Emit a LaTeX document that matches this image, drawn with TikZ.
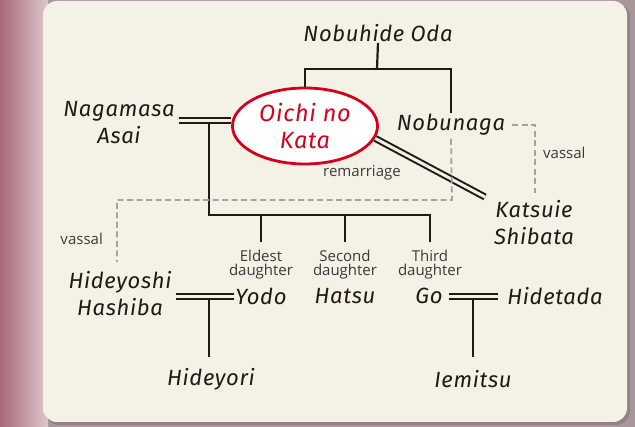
\documentclass[tikz,border=0pt]{standalone}
\usepackage{fontspec}
\setmainfont{Fira Sans}
\newfontfamily\namefont[LetterSpace=3]{Fira Sans}
\newfontfamily\labfont{Open Sans}
\usetikzlibrary{shapes.geometric,calc}
\definecolor{panel}{HTML}{F4F2E5}
\definecolor{ink}{HTML}{231815}
\definecolor{redb}{HTML}{D7001B}
\definecolor{dashg}{HTML}{A3A3A3}
\definecolor{labg}{HTML}{3A3A3A}
\definecolor{outer}{HTML}{A8969B}
\definecolor{maroon}{HTML}{A86878}
\definecolor{pinkl}{HTML}{DCC8CD}
\tikzset{
  person/.style={font=\namefont\itshape\fontsize{22}{27}\selectfont, text=ink, align=center, inner sep=1pt},
  small/.style={font=\labfont\fontsize{15}{14}\selectfont, text=labg, align=center, inner sep=1pt},
  tie/.style={draw=ink, line width=2.2pt},
  wed/.style={draw=ink, line width=2pt, double=panel, double distance=3pt},
  vas/.style={draw=dashg, line width=1.8pt, dash pattern=on 6pt off 3.5pt},
  heroine/.style={ellipse, draw=redb, line width=2.8pt, fill=white, minimum width=145pt, minimum height=76pt, inner sep=0pt, text=redb, align=center, font=\namefont\itshape\fontsize{23.5}{27}\selectfont}
}
\begin{document}
\begin{tikzpicture}[x=1pt,y=-1pt]
\useasboundingbox (0,0) rectangle (635,427);
\fill[outer] (0,0) rectangle (635,427);
\shade[left color=maroon, right color=pinkl] (0,0) rectangle (48,427);
\fill[black, opacity=0.12, rounded corners=14pt] (45,3) rectangle (630,425);
\fill[panel, rounded corners=14pt] (43,1) rectangle (627,422);

% people
\node[person] (nobuhide) at (378,33) {Nobuhide Oda};
\node[heroine] (oichi) at (305,126) {Oichi no\\Kata};
\node[person] (nagamasa) at (119,123) {Nagamasa\\Asai};
\node[person] (nobunaga) at (451,125) {Nobunaga};
\node[person] (katsuie) at (534,223) {Katsuie\\Shibata};
\node[person] (hideyoshi) at (120,294) {Hideyoshi\\Hashiba};
\node[person] (yodo) at (261,296) {Yodo};
\node[person] (hatsu) at (345,296) {Hatsu};
\node[person] (go) at (429,296) {Go};
\node[person] (hidetada) at (555,296) {Hidetada};
\node[person] (hideyori) at (211,379) {Hideyori};
\node[person] (iemitsu) at (473,379) {Iemitsu};

% small labels
\node[small] (eldest) at (261,265) {Eldest\\daughter};
\node[small] (second) at (345,265) {Second\\daughter};
\node[small] (third) at (430,265) {Third\\daughter};
\node[small] (remar) at (362,173) {remarriage};
\node[small, anchor=west] (vas1) at (542,153) {vassal};
\node[small, anchor=east] (vas2) at (104,239) {vassal};

% coordinates
\coordinate (top) at (377,69);
\coordinate (m1) at (209,121);
\coordinate (bar) at (209,215);
\coordinate (cb) at (0,242);
\coordinate (gb) at (0,357);
\coordinate (kd) at (485,197);
\coordinate (v1) at (535,125);
\coordinate (v2) at (535,193);
\coordinate (d1) at (452,200);
\coordinate (d2) at (117,200);
\coordinate (d3) at (117,262);
\coordinate (m2) at (209,296.5);
\coordinate (m3) at (473,297);

% Oda family
\draw[tie] (nobuhide.south) -- (top);
\draw[tie] (oichi.north) -- (oichi.north |- top) -- (nobunaga.north |- top) -- (nobunaga.north);

% marriages
\draw[wed, shorten <=3pt] (nagamasa.east |- m1) -- (oichi.west |- m1);
\draw[wed] (oichi.-10) -- (kd);
\draw[wed, shorten <=3pt] (hideyoshi.east |- m2) -- (yodo.west |- m2);
\draw[wed, shorten <=5pt, shorten >=8pt] (go.east |- m3) -- (hidetada.west |- m3);

% children of Nagamasa and Oichi
\draw[tie] ($(m1)+(0,3)$) -- (bar) -- (third.north |- bar) -- (third.north |- cb);
\draw[tie] (eldest.north |- bar) -- (eldest.north |- cb);
\draw[tie] (second.north |- bar) -- (second.north |- cb);

% grandchildren
\draw[tie] ($(m2)+(0,3)$) -- (m2 |- gb);
\draw[tie] ($(m3)+(0,3)$) -- (m3 |- gb);

% vassal relations
\draw[vas] ([xshift=6pt]nobunaga.east) -- (v1) -- (v2);
\draw[vas] ([yshift=-2pt]nobunaga.south) -- (d1) -- (d2) -- (d3);
\end{tikzpicture}
\end{document}
